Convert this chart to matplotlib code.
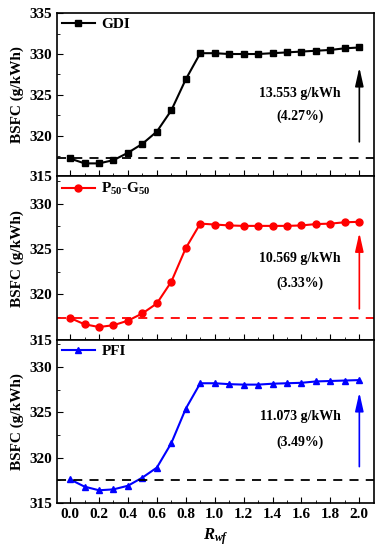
import numpy as np
import matplotlib as mpl
mpl.use('Agg')
import matplotlib.pyplot as plt

plt.rcParams['font.family'] = 'Liberation Serif'
plt.rcParams['font.weight'] = 'bold'
plt.rcParams['mathtext.fontset'] = 'custom'
plt.rcParams['mathtext.rm'] = 'Liberation Serif:bold'
plt.rcParams['mathtext.it'] = 'Liberation Serif:italic:bold'
plt.rcParams['mathtext.bf'] = 'Liberation Serif:bold'

rwf = np.round(np.arange(0, 2.01, 0.1), 1)

gdi = [317.2, 316.6, 316.6, 317.0, 317.9, 319.0, 320.5, 323.1, 326.9, 330.1,
       330.1, 330.0, 330.0, 330.0, 330.1, 330.2, 330.3, 330.4, 330.5, 330.7, 330.8]
p50 = [317.4, 316.7, 316.4, 316.6, 317.1, 317.9, 319.0, 321.4, 325.1, 327.8,
       327.7, 327.6, 327.55, 327.55, 327.55, 327.55, 327.6, 327.75, 327.8, 327.95, 328.0]
pfi = [317.6, 316.8, 316.4, 316.5, 316.9, 317.8, 318.9, 321.6, 325.4, 328.2,
       328.2, 328.1, 328.05, 328.05, 328.15, 328.2, 328.25, 328.4, 328.45, 328.5, 328.55]

labels = ['GDI', r'P$_{50}$-G$_{50}$', 'PFI']
series = [gdi, p50, pfi]
colors = ['black', 'red', 'blue']
markers = ['s', 'o', '^']
baselines = [317.2, 317.4, 317.5]
base_colors = ['black', 'red', 'black']
gains = ['13.553 g/kWh', '10.569 g/kWh', '11.073 g/kWh']
pcts = ['(4.27%)', '(3.33%)', '(3.49%)']
arrow_y = [(318.9, 328.7), (318.1, 327.1), (318.7, 327.5)]
ylims = [(315, 335), (315, 333), (315, 333)]

fig, axes = plt.subplots(3, 1, figsize=(3.83, 5.5), dpi=100, sharex=True)
fig.subplots_adjust(left=0.149, right=0.976, top=0.976, bottom=0.0855, hspace=0)

for i, ax in enumerate(axes):
    ax.plot(rwf, series[i], color=colors[i], marker=markers[i], markersize=5,
            linewidth=1.5, label=labels[i])
    ax.axhline(baselines[i], color=base_colors[i], linestyle=(0, (5, 4)), linewidth=1.3)
    ax.annotate('', xy=(2.0, arrow_y[i][1]), xytext=(2.0, arrow_y[i][0]),
                arrowprops=dict(arrowstyle='-|>,head_length=0.8,head_width=0.18',
                                color=colors[i], lw=1.2, mutation_scale=14))
    mid = (arrow_y[i][0] + arrow_y[i][1]) / 2
    ax.text(1.59, mid + 1.4, gains[i], ha='center', va='center', fontsize=10, fontweight='bold')
    ax.text(1.59, mid - 1.4, pcts[i], ha='center', va='center', fontsize=10, fontweight='bold')
    ax.set_ylim(*ylims[i])
    ax.set_yticks(np.arange(315, ylims[i][1] + 0.1, 5))
    ax.set_yticks(np.arange(317.5, ylims[i][1], 5), minor=True)
    ax.set_xlim(-0.09, 2.1)
    ax.set_xticks(np.arange(0, 2.01, 0.2))
    ax.set_xticks(np.arange(0.1, 2.0, 0.2), minor=True)
    ax.tick_params(direction='in', which='both', labelsize=11, right=False, top=False)
    ax.tick_params(which='major', length=4)
    ax.tick_params(which='minor', length=2)
    for s in ax.spines.values():
        s.set_linewidth(1.2)
    ax.set_ylabel('BSFC (g/kWh)', fontsize=11, fontweight='bold')
    ax.legend(loc='upper left', frameon=False, fontsize=11, handlelength=2.2,
              borderaxespad=0.0, borderpad=0.3, handletextpad=0.4)

axes[-1].set_xticklabels(['%.1f' % v for v in np.arange(0, 2.01, 0.2)])
axes[-1].set_xlabel(r'$R_{wf}$', fontsize=12)
fig.align_ylabels(axes)

plt.savefig('out.png')
